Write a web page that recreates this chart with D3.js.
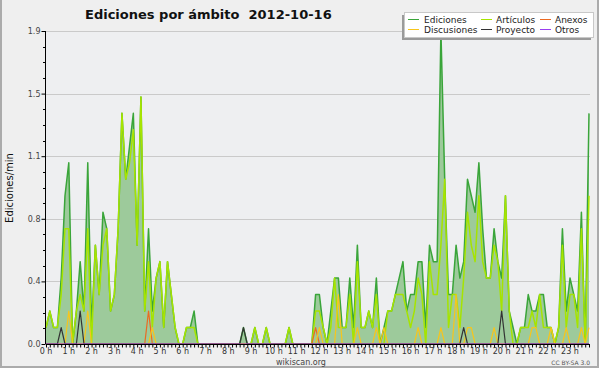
<!DOCTYPE html>
<html>
<head>
<meta charset="utf-8">
<script src="https://cdn.jsdelivr.net/npm/d3@7"></script>
<style>
  body { margin: 0; background: #fff; }
  text { font-family: "DejaVu Sans", sans-serif; }
</style>
</head>
<body>
<svg id="chart" width="600" height="370"></svg>
<script>
// Data: ediciones/min per 10 minute bin, 2012-10-16 (144 bins)
let hours = ["0 h", "1 h", "2 h", "3 h", "4 h", "5 h", "6 h", "7 h", "8 h", "9 h", "10 h", "11 h",
  "12 h", "13 h", "14 h", "15 h", "16 h", "17 h", "18 h", "19 h", "20 h", "21 h", "22 h", "23 h"];

let ediciones = [
  0.1, 0.2, 0.1, 0.1, 0.4, 0.9, 1.1, 0.0, 0.2, 0.5, 0.2, 1.1,
  0.1, 0.6, 0.3, 0.8, 0.7, 0.2, 0.3, 0.7, 1.4, 1.0, 1.2, 1.4,
  0.6, 1.5, 0.2, 0.7, 0.2, 0.4, 0.5, 0.1, 0.5, 0.3, 0.1, 0.0,
  0.0, 0.1, 0.1, 0.2, 0.0, 0.0, 0.0, 0.0, 0.0, 0.0, 0.0, 0.0,
  0.0, 0.0, 0.0, 0.0, 0.1, 0.0, 0.0, 0.1, 0.0, 0.0, 0.1, 0.0,
  0.0, 0.0, 0.0, 0.0, 0.1, 0.0, 0.0, 0.0, 0.0, 0.0, 0.0, 0.3,
  0.3, 0.1, 0.0, 0.2, 0.4, 0.4, 0.1, 0.1, 0.4, 0.1, 0.6, 0.1,
  0.1, 0.2, 0.1, 0.4, 0.0, 0.1, 0.2, 0.2, 0.3, 0.4, 0.5, 0.2,
  0.3, 0.3, 0.5, 0.5, 0.1, 0.6, 0.5, 0.5, 1.9, 1.0, 0.3, 0.3,
  0.6, 0.4, 0.5, 1.0, 0.9, 0.8, 1.1, 0.7, 0.4, 0.4, 0.7, 0.5,
  0.4, 0.9, 0.2, 0.1, 0.0, 0.1, 0.1, 0.3, 0.2, 0.2, 0.3, 0.3,
  0.1, 0.1, 0.0, 0.1, 0.7, 0.2, 0.4, 0.3, 0.2, 0.8, 0.0, 1.4];

let articulos = [
  0.1, 0.2, 0.1, 0.1, 0.3, 0.7, 0.7, 0.0, 0.2, 0.3, 0.2, 0.7,
  0.0, 0.6, 0.3, 0.6, 0.7, 0.2, 0.3, 0.7, 1.4, 1.0, 1.1, 1.3,
  0.6, 1.5, 0.2, 0.5, 0.1, 0.4, 0.5, 0.1, 0.5, 0.3, 0.1, 0.0,
  0.0, 0.1, 0.1, 0.1, 0.0, 0.0, 0.0, 0.0, 0.0, 0.0, 0.0, 0.0,
  0.0, 0.0, 0.0, 0.0, 0.0, 0.0, 0.0, 0.1, 0.0, 0.0, 0.1, 0.0,
  0.0, 0.0, 0.0, 0.0, 0.1, 0.0, 0.0, 0.0, 0.0, 0.0, 0.0, 0.2,
  0.2, 0.1, 0.0, 0.1, 0.4, 0.1, 0.1, 0.1, 0.3, 0.0, 0.5, 0.1,
  0.1, 0.2, 0.1, 0.3, 0.0, 0.0, 0.2, 0.2, 0.3, 0.3, 0.3, 0.2,
  0.1, 0.2, 0.4, 0.3, 0.0, 0.5, 0.3, 0.3, 0.6, 1.0, 0.1, 0.3,
  0.3, 0.1, 0.4, 0.8, 0.6, 0.5, 0.9, 0.5, 0.4, 0.4, 0.6, 0.5,
  0.2, 0.9, 0.2, 0.0, 0.0, 0.1, 0.1, 0.1, 0.2, 0.1, 0.3, 0.1,
  0.1, 0.1, 0.0, 0.1, 0.6, 0.1, 0.3, 0.3, 0.1, 0.7, 0.0, 0.9];

let anexos = [
  0, 0, 0, 0, 0, 0, 0, 0, 0, 0, 0, 0,
  0, 0, 0, 0, 0, 0, 0, 0, 0, 0, 0, 0,
  0, 0, 0, 0.2, 0, 0, 0, 0, 0, 0, 0, 0,
  0, 0, 0, 0, 0, 0, 0, 0, 0, 0, 0, 0,
  0, 0, 0, 0, 0, 0, 0, 0, 0, 0, 0, 0,
  0, 0, 0, 0, 0, 0, 0, 0, 0, 0, 0, 0.1,
  0, 0, 0, 0, 0, 0, 0, 0, 0, 0, 0, 0,
  0, 0, 0, 0, 0, 0, 0, 0, 0, 0, 0, 0,
  0, 0, 0, 0, 0, 0, 0, 0, 0, 0, 0, 0,
  0, 0, 0, 0, 0, 0, 0, 0, 0, 0, 0, 0,
  0, 0, 0, 0, 0, 0, 0, 0, 0, 0, 0, 0,
  0, 0, 0, 0, 0, 0, 0, 0, 0, 0, 0, 0];

let discusiones = [
  0, 0, 0, 0, 0, 0, 0.2, 0, 0, 0, 0, 0.2,
  0, 0, 0, 0, 0, 0, 0, 0, 0, 0, 0, 0,
  0, 0, 0, 0, 0.1, 0, 0, 0, 0, 0, 0, 0,
  0, 0, 0, 0, 0, 0, 0, 0, 0, 0, 0, 0,
  0, 0, 0, 0, 0, 0, 0, 0, 0, 0, 0, 0,
  0, 0, 0, 0, 0, 0, 0, 0, 0, 0, 0, 0,
  0.1, 0, 0, 0, 0, 0.3, 0, 0, 0, 0, 0.1, 0,
  0, 0, 0, 0.1, 0, 0.1, 0, 0, 0, 0, 0, 0,
  0, 0, 0.1, 0, 0, 0, 0, 0, 0.1, 0, 0, 0,
  0.3, 0, 0, 0.1, 0.1, 0, 0, 0, 0, 0, 0.1, 0,
  0, 0, 0, 0, 0, 0, 0, 0, 0.1, 0.1, 0, 0,
  0, 0.1, 0, 0, 0, 0.1, 0, 0, 0, 0.1, 0, 0.1];

let proyecto = [
  0, 0, 0, 0, 0.1, 0, 0, 0, 0, 0.2, 0, 0,
  0, 0, 0, 0, 0, 0, 0, 0, 0, 0, 0, 0,
  0, 0, 0, 0, 0, 0, 0, 0, 0, 0, 0, 0,
  0, 0, 0, 0, 0, 0, 0, 0, 0, 0, 0, 0,
  0, 0, 0, 0, 0.1, 0, 0, 0, 0, 0, 0, 0,
  0, 0, 0, 0, 0, 0, 0, 0, 0, 0, 0, 0,
  0, 0, 0, 0, 0, 0, 0, 0, 0, 0, 0, 0,
  0, 0, 0, 0, 0, 0, 0, 0, 0, 0, 0, 0,
  0, 0, 0, 0, 0, 0, 0, 0, 0, 0, 0, 0,
  0, 0, 0.1, 0, 0, 0, 0, 0, 0, 0, 0, 0,
  0.2, 0, 0, 0, 0, 0, 0, 0, 0, 0, 0, 0,
  0, 0, 0, 0, 0, 0, 0, 0, 0, 0, 0, 0];

let otros = [
  0, 0, 0, 0, 0, 0, 0, 0, 0, 0, 0, 0,
  0, 0, 0, 0, 0, 0, 0, 0, 0, 0, 0, 0,
  0, 0, 0, 0, 0, 0, 0, 0, 0, 0, 0, 0,
  0, 0, 0, 0, 0, 0, 0, 0, 0, 0, 0, 0,
  0, 0, 0, 0, 0, 0, 0, 0, 0, 0, 0, 0,
  0, 0, 0, 0, 0, 0, 0, 0, 0, 0, 0, 0,
  0, 0, 0, 0, 0, 0, 0, 0, 0, 0, 0, 0,
  0, 0, 0, 0, 0, 0, 0, 0, 0, 0, 0, 0,
  0, 0, 0, 0, 0, 0, 0, 0, 0, 0, 0, 0,
  0, 0, 0, 0, 0, 0, 0, 0, 0, 0, 0, 0,
  0, 0, 0, 0, 0, 0, 0, 0, 0, 0, 0, 0,
  0, 0, 0, 0, 0, 0, 0, 0, 0, 0, 0, 0];

let yTicks = [0, 0.38, 0.76, 1.14, 1.52, 1.9];

// Series table (drawing order = legend order by rows)
let series = [
  {name: "Ediciones", values: ediciones, color: "#3aa53a", width: 1.5},
  {name: "Artículos", values: articulos, color: "#a6e400", width: 1.5},
  {name: "Anexos", values: anexos, color: "#ec6a22", width: 1.2},
  {name: "Discusiones", values: discusiones, color: "#f7c51c", width: 1.2},
  {name: "Proyecto", values: proyecto, color: "#333333", width: 1.2},
  {name: "Otros", values: otros, color: "#9a3ff0", width: 1.2}
];

let svg = d3.select("#chart");

// Scales
let x = d3.scaleLinear().domain([0, ediciones.length - 1]).range([46, 589]);
let y = d3.scaleLinear().domain([0, 1.9]).range([344, 31]);

// Background and frame
svg.append("rect")
  .attr("x", 0).attr("y", 0)
  .attr("width", 599).attr("height", 368)
  .attr("fill", "#efefef");
svg.append("path")
  .attr("d", "M1,0V367H598V0")
  .attr("fill", "none")
  .attr("stroke", "#ababab")
  .attr("stroke-width", 2);
svg.append("rect")
  .attr("x", 46).attr("y", 31)
  .attr("width", 544).attr("height", 313)
  .attr("fill", "#eeeff1");

// Grid lines
svg.append("g")
  .selectAll("line")
  .data(yTicks.slice(1))
  .join("line")
  .attr("x1", 46).attr("x2", 590)
  .attr("y1", d => Math.round(y(d)) + 0.5)
  .attr("y2", d => Math.round(y(d)) + 0.5)
  .attr("stroke", "#cacaca");

// Filled area under Ediciones
let area = d3.area()
  .x((d, i) => x(i))
  .y0(y(0))
  .y1(d => y(d));
svg.append("path")
  .datum(ediciones)
  .attr("d", area)
  .attr("fill", "#9dca9b");

// Lines
let line = d3.line()
  .x((d, i) => x(i))
  .y(d => y(d));
let drawOrder = ["Ediciones", "Artículos", "Anexos", "Discusiones", "Proyecto", "Otros"];
drawOrder.forEach(function(name) {
  let s = series.find(d => d.name === name);
  svg.append("path")
    .datum(s.values)
    .attr("d", line)
    .attr("fill", "none")
    .attr("stroke", s.color)
    .attr("stroke-width", s.width)
    .attr("stroke-linejoin", "round");
});

// X axis: one tick per 10 minute bin
let xAxis = svg.append("g")
  .attr("transform", "translate(0,344.5)")
  .call(d3.axisBottom(x).tickValues(d3.range(ediciones.length)).tickSize(3).tickFormat(""));
xAxis.select(".domain").attr("stroke", "#000").attr("d", "M46,0H590");
xAxis.selectAll(".tick line").attr("stroke", "#000");

svg.append("g")
  .selectAll("text")
  .data(hours)
  .join("text")
  .attr("x", (d, i) => x(i * 6))
  .attr("y", 354)
  .attr("text-anchor", "middle")
  .attr("font-size", 8)
  .attr("fill", "#333")
  .text(d => d);

// Y axis with minor ticks
let yAxis = svg.append("g")
  .attr("transform", "translate(45.5,0)")
  .call(d3.axisLeft(y).tickValues(yTicks).tickSize(4).tickPadding(1).tickFormat(d3.format(".1f")));
yAxis.select(".domain").attr("stroke", "#000").attr("d", "M0,31V344");
yAxis.selectAll(".tick line").attr("stroke", "#000");
yAxis.selectAll(".tick text")
  .attr("font-family", "DejaVu Sans")
  .attr("font-size", 8)
  .attr("fill", "#444");

let minor = [];
for (let k = 0; k < yTicks.length - 1; k++) {
  let step = (yTicks[k + 1] - yTicks[k]) / 4;
  for (let m = 1; m < 4; m++) minor.push(yTicks[k] + m * step);
}
svg.append("g")
  .selectAll("line")
  .data(minor)
  .join("line")
  .attr("x1", 43).attr("x2", 46)
  .attr("y1", d => Math.round(y(d)) + 0.5)
  .attr("y2", d => Math.round(y(d)) + 0.5)
  .attr("stroke", "#000");

// Axis title
svg.append("text")
  .attr("transform", "translate(13,188) rotate(-90)")
  .attr("text-anchor", "middle")
  .attr("font-family", "DejaVu Sans Mono")
  .attr("font-size", 10)
  .attr("fill", "#111")
  .text("Ediciones/min");

// Chart title
svg.append("text")
  .attr("x", 85)
  .attr("y", 19)
  .attr("font-family", "Liberation Sans")
  .attr("font-weight", "bold")
  .attr("font-size", 13)
  .attr("fill", "#111")
  .attr("xml:space", "preserve")
  .style("white-space", "pre")
  .text("Ediciones por ámbito  2012-10-16");

// Footer
svg.append("text")
  .attr("x", 301).attr("y", 365)
  .attr("text-anchor", "middle")
  .attr("font-size", 8)
  .attr("fill", "#444")
  .text("wikiscan.org");
svg.append("text")
  .attr("x", 590).attr("y", 365)
  .attr("text-anchor", "end")
  .attr("font-size", 6)
  .attr("fill", "#555")
  .text("CC BY-SA 3.0");

// Legend
let legend = svg.append("g");
legend.append("rect")
  .attr("x", 402).attr("y", 15)
  .attr("width", 189).attr("height", 25)
  .attr("fill", "#9a9a9a");
legend.append("rect")
  .attr("x", 404.5).attr("y", 12.5)
  .attr("width", 189).attr("height", 25)
  .attr("fill", "#fff")
  .attr("stroke", "#c8c8c8");

let colSwatch = [408, 481, 540];
let colText = [424, 496, 555];
let rowY = [19, 29];
let legendOrder = ["Ediciones", "Artículos", "Anexos", "Discusiones", "Proyecto", "Otros"];
let items = legend.selectAll("g.item")
  .data(legendOrder.map(n => series.find(d => d.name === n)))
  .join("g")
  .attr("class", "item");
items.append("line")
  .attr("x1", (d, i) => colSwatch[i % 3])
  .attr("x2", (d, i) => colSwatch[i % 3] + 11)
  .attr("y1", (d, i) => rowY[Math.floor(i / 3)] + 0.5)
  .attr("y2", (d, i) => rowY[Math.floor(i / 3)] + 0.5)
  .attr("stroke", d => d.color)
  .attr("stroke-width", 1);
items.append("text")
  .attr("x", (d, i) => colText[i % 3])
  .attr("y", (d, i) => rowY[Math.floor(i / 3)] + 3.5)
  .attr("font-size", 9)
  .attr("fill", "#222")
  .text(d => d.name);
</script>
</body>
</html>
